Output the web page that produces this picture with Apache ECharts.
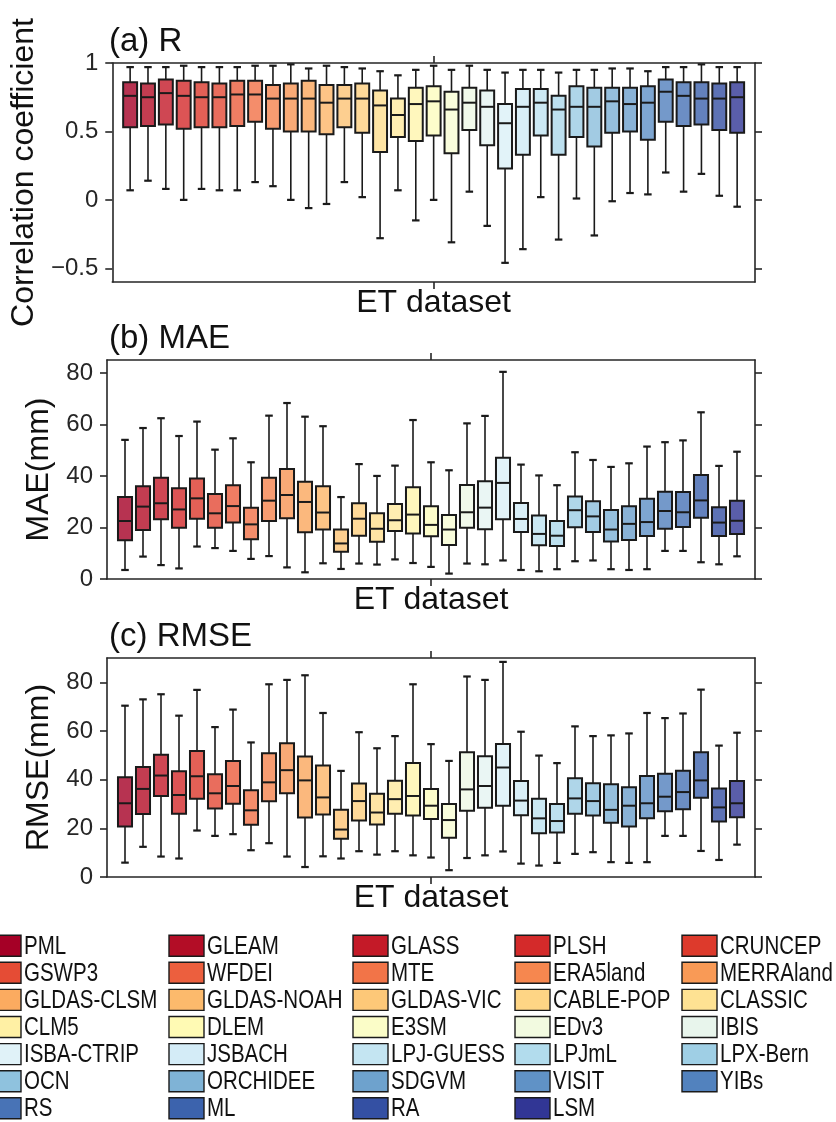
<!DOCTYPE html>
<html>
<head>
<meta charset="utf-8">
<script src="https://cdn.jsdelivr.net/npm/echarts@6/dist/echarts.min.js"></script>
<style>
  html, body { margin: 0; padding: 0; background: #fff; }
  #chart { width: 836px; height: 1122px; }
</style>
</head>
<body>
<div id="chart"></div>
<script>
// legend entries (ordered by row, 5 per row)
const legendNames = [
  "PML", "GLEAM", "GLASS", "PLSH", "CRUNCEP",
  "GSWP3", "WFDEI", "MTE", "ERA5land", "MERRAland",
  "GLDAS-CLSM", "GLDAS-NOAH", "GLDAS-VIC", "CABLE-POP", "CLASSIC",
  "CLM5", "DLEM", "E3SM", "EDv3", "IBIS",
  "ISBA-CTRIP", "JSBACH", "LPJ-GUESS", "LPJmL", "LPX-Bern",
  "OCN", "ORCHIDEE", "SDGVM", "VISIT", "YIBs",
  "RS", "ML", "RA", "LSM"
];

// box stats per dataset: [lower whisker, q1, median, q3, upper whisker]
const rStats = [
  [0.07, 0.53, 0.76, 0.86, 0.97], [0.14, 0.54, 0.75, 0.85, 0.97], [0.08, 0.55, 0.78, 0.88, 0.97],
  [0.00, 0.52, 0.76, 0.87, 0.98], [0.08, 0.53, 0.75, 0.86, 0.97], [0.07, 0.53, 0.75, 0.85, 0.97],
  [0.07, 0.54, 0.77, 0.87, 0.97], [0.13, 0.57, 0.77, 0.87, 0.98], [0.10, 0.52, 0.74, 0.84, 0.98],
  [0.00, 0.50, 0.74, 0.85, 0.99], [-0.06, 0.50, 0.74, 0.87, 0.96], [-0.03, 0.48, 0.71, 0.84, 0.98],
  [0.13, 0.53, 0.74, 0.84, 0.97], [0.02, 0.49, 0.74, 0.85, 0.96], [-0.28, 0.35, 0.69, 0.80, 0.94],
  [0.07, 0.46, 0.62, 0.74, 0.91], [-0.15, 0.43, 0.70, 0.82, 0.95], [0.00, 0.47, 0.72, 0.83, 0.98],
  [-0.31, 0.34, 0.66, 0.79, 0.95], [0.06, 0.51, 0.71, 0.82, 0.98], [-0.19, 0.40, 0.68, 0.80, 0.95],
  [-0.46, 0.23, 0.56, 0.70, 0.93], [-0.36, 0.33, 0.68, 0.81, 0.95], [0.02, 0.47, 0.71, 0.81, 0.95],
  [-0.29, 0.33, 0.66, 0.76, 0.93], [0.01, 0.46, 0.68, 0.83, 0.95], [-0.26, 0.39, 0.68, 0.82, 0.95],
  [-0.01, 0.49, 0.72, 0.82, 0.96], [0.05, 0.50, 0.70, 0.82, 0.96], [0.04, 0.44, 0.71, 0.83, 0.94],
  [0.20, 0.57, 0.79, 0.88, 0.97], [0.06, 0.54, 0.76, 0.86, 0.97], [0.19, 0.55, 0.74, 0.86, 0.99],
  [0.03, 0.51, 0.74, 0.85, 0.97], [-0.05, 0.49, 0.75, 0.86, 0.97]
];

const maeStats = [
  [3.5, 15.0, 22.5, 31.8, 54.0], [8.7, 19.0, 28.1, 36.0, 58.6], [5.4, 23.2, 29.4, 39.3, 62.4],
  [4.1, 19.9, 27.0, 35.2, 55.5], [12.6, 23.4, 31.3, 39.0, 61.1], [12.0, 19.9, 25.5, 33.0, 50.2],
  [10.9, 21.9, 28.3, 36.4, 54.6], [7.8, 15.4, 21.2, 27.7, 45.3], [8.9, 22.5, 30.4, 39.3, 63.4],
  [4.5, 23.6, 32.6, 42.7, 68.3], [2.6, 18.1, 29.9, 37.7, 63.0], [6.1, 19.2, 25.8, 36.0, 59.3],
  [3.9, 10.6, 13.8, 19.2, 31.8], [6.0, 16.8, 23.4, 29.4, 44.6], [5.6, 14.5, 19.5, 25.5, 40.0],
  [7.6, 18.6, 22.8, 29.1, 44.0], [6.2, 17.7, 25.0, 35.6, 61.7], [4.7, 16.6, 21.0, 28.2, 45.3],
  [2.1, 13.2, 19.2, 24.8, 42.2], [6.0, 19.9, 25.9, 36.5, 60.4], [5.7, 19.3, 27.7, 37.9, 63.3],
  [7.2, 23.2, 37.3, 47.1, 80.4], [3.5, 18.2, 23.3, 29.5, 44.4], [3.0, 13.1, 17.5, 24.6, 40.2],
  [3.8, 12.8, 16.8, 22.5, 36.4], [6.9, 20.1, 26.7, 32.0, 49.2], [7.2, 18.2, 24.3, 30.2, 46.2],
  [3.8, 14.6, 19.2, 26.8, 43.5], [3.5, 15.1, 21.4, 28.2, 44.9], [3.8, 16.7, 22.1, 31.1, 51.4],
  [10.9, 19.5, 26.4, 33.9, 53.1], [10.9, 20.2, 25.9, 33.8, 53.8], [6.5, 23.8, 30.5, 40.4, 64.7],
  [5.7, 16.7, 21.9, 27.8, 43.9], [8.8, 17.5, 22.6, 30.4, 49.4]
];

const rmseStats = [
  [5.9, 20.8, 30.3, 41.0, 70.4], [12.4, 25.9, 36.2, 45.2, 73.0], [8.4, 33.3, 41.7, 50.2, 75.1],
  [7.6, 26.0, 33.7, 43.5, 66.3], [19.1, 32.2, 41.4, 51.8, 76.9], [16.9, 28.2, 34.4, 42.2, 61.6],
  [17.6, 30.1, 37.4, 47.7, 68.8], [11.0, 21.5, 27.4, 35.6, 55.3], [13.9, 31.1, 38.9, 50.9, 79.2],
  [8.4, 34.4, 43.9, 55.0, 81.0], [4.1, 24.5, 39.7, 49.5, 82.9], [8.5, 25.7, 32.7, 45.8, 67.4],
  [7.6, 15.7, 19.5, 27.6, 43.6], [10.6, 23.2, 31.2, 38.4, 59.5], [9.2, 21.6, 26.5, 34.2, 52.9],
  [10.6, 26.0, 32.0, 39.6, 57.9], [8.9, 25.3, 33.3, 46.9, 79.2], [8.0, 23.8, 29.3, 36.2, 54.6],
  [2.8, 16.1, 23.4, 30.0, 47.7], [7.8, 27.2, 36.0, 51.3, 82.4], [8.9, 28.5, 37.4, 49.6, 81.0],
  [10.5, 29.3, 45.0, 54.7, 88.4], [5.5, 25.4, 31.4, 39.5, 59.7], [4.7, 18.0, 24.1, 32.2, 49.9],
  [5.8, 18.3, 23.0, 30.0, 46.8], [9.5, 26.0, 32.3, 40.6, 61.9], [10.2, 25.3, 31.2, 38.5, 57.9],
  [6.1, 22.3, 27.6, 38.1, 58.2], [5.8, 20.8, 29.3, 36.9, 59.0], [6.1, 24.1, 30.3, 41.5, 67.4],
  [16.9, 27.0, 33.0, 42.4, 65.3], [16.9, 27.8, 34.9, 43.7, 67.2], [10.7, 32.6, 39.7, 51.3, 77.0],
  [7.0, 22.8, 28.6, 36.4, 54.0], [13.3, 24.6, 30.3, 39.5, 59.3]
];

const rTicks = [-0.5, 0, 0.5, 1];
const errTicks = [0, 20, 40, 60, 80];

// colours (legend patches, RdYlBu-like)
const palette = [
  "#a50026", "#b30d26", "#c41a28", "#d42a2a", "#dd3a2c",
  "#e54c35", "#ec5f3e", "#f27448", "#f6874f", "#f99a56",
  "#fbab60", "#fcba6c", "#fdc878", "#fed585", "#fee293",
  "#fff0a4", "#fffab4", "#fbfdc8", "#f2fae0", "#e8f5ec",
  "#e0f2f8", "#d4ecf7", "#c4e5f2", "#b2dced", "#9fcfe5",
  "#8fc2de", "#7fb3d6", "#6ea2cd", "#6092c6", "#5282be",
  "#4873b6", "#3c63ad", "#3450a3", "#313695"
];

const ink = "#262626";
const nBox = rStats.length;

function rgb(h) {
  return [1, 3, 5].map(i => parseInt(h.substr(i, 2), 16));
}
// sample the palette for each box, drawn semi-transparent
const boxFill = rStats.map((_, i) => {
  const t = i * (palette.length - 1) / (nBox - 1);
  const a = Math.floor(t), b = Math.min(a + 1, palette.length - 1), f = t - a;
  const ca = rgb(palette[a]), cb = rgb(palette[b]);
  const c = ca.map((v, k) => Math.round(v + (cb[k] - v) * f));
  return "rgba(" + c.join(",") + ",0.8)";
});

function renderBox(params, api) {
  const x = api.value(0);
  const lo = api.coord([x, api.value(1)]);
  const q1 = api.coord([x, api.value(2)]);
  const md = api.coord([x, api.value(3)]);
  const q3 = api.coord([x, api.value(4)]);
  const hi = api.coord([x, api.value(5)]);
  const unit = api.size([1, 0])[0];
  const bw = unit * 0.78, cw = unit * 0.42;
  const cx = lo[0];
  const wl = { stroke: "#1a1a1a", lineWidth: 1.6 };
  const cap = { stroke: "#1a1a1a", lineWidth: 2.2 };
  return {
    type: "group",
    children: [
      { type: "line", shape: { x1: cx, y1: hi[1], x2: cx, y2: q3[1] }, style: wl },
      { type: "line", shape: { x1: cx, y1: q1[1], x2: cx, y2: lo[1] }, style: wl },
      { type: "line", shape: { x1: cx - cw / 2, y1: hi[1], x2: cx + cw / 2, y2: hi[1] }, style: cap },
      { type: "line", shape: { x1: cx - cw / 2, y1: lo[1], x2: cx + cw / 2, y2: lo[1] }, style: cap },
      { type: "rect", shape: { x: cx - bw / 2, y: q3[1], width: bw, height: q1[1] - q3[1] },
        style: { fill: boxFill[params.dataIndex], stroke: "#1a1a1a", lineWidth: 2 } },
      { type: "line", shape: { x1: cx - bw / 2, y1: md[1], x2: cx + bw / 2, y2: md[1] },
        style: { stroke: "#1a1a1a", lineWidth: 2 } }
    ]
  };
}

const gridTops = [63, 360, 658];
const yRanges = [[-0.6, 1], [0, 85], [0, 90]];
const yTicks = [rTicks, errTicks, errTicks];
const yNames = ["Correlation coefficient", "MAE(mm)", "RMSE(mm)"];
const yNameGaps = [59, 43, 43];
const titles = ["(a) R", "(b) MAE", "(c) RMSE"];
const statsList = [rStats, maeStats, rmseStats];

const axisLine = { show: true, onZero: false, lineStyle: { color: ink, width: 1.6 } };
const tickStyle = { color: ink, width: 1.6 };

const grid = [], xAxis = [], yAxis = [], series = [], title = [];
gridTops.forEach((top, g) => {
  grid.push({ left: 107, width: 648, top: top, height: 219 });
  title.push({ text: titles[g], left: 109, top: top - 38, padding: 0,
    textStyle: { fontSize: 33, fontWeight: "normal", color: "#111", fontFamily: "Liberation Sans" } });
  const xBase = {
    gridIndex: g, type: "value", min: 0, max: 36,
    splitLine: { show: false }, axisLine: axisLine,
    axisTick: { show: true, customValues: [18], length: 7, lineStyle: tickStyle },
    axisLabel: { show: false }
  };
  xAxis.push(Object.assign({}, xBase, {
    position: "bottom", name: "ET dataset", nameLocation: "middle", nameGap: 5,
    nameTextStyle: { fontSize: 32, color: "#111", fontFamily: "Liberation Sans", verticalAlign: "top" }
  }));
  xAxis.push(Object.assign({}, xBase, { position: "top" }));
  const yBase = {
    gridIndex: g, type: "value", min: yRanges[g][0], max: yRanges[g][1],
    splitLine: { show: false }, axisLine: axisLine,
    axisTick: { show: true, customValues: yTicks[g], length: 7, lineStyle: tickStyle }
  };
  yAxis.push(Object.assign({}, yBase, {
    position: "left", name: yNames[g], nameLocation: "middle", nameGap: yNameGaps[g],
    nameTextStyle: { fontSize: 32, color: "#111", fontFamily: "Liberation Sans" },
    axisLabel: {
      show: true, customValues: yTicks[g], margin: 14, fontSize: 24, color: ink,
      fontFamily: "Liberation Sans",
      formatter: v => String(v).replace("-", "\u2212")
    }
  }));
  yAxis.push(Object.assign({}, yBase, { position: "right", axisLabel: { show: false } }));
  series.push({
    type: "custom", xAxisIndex: g * 2, yAxisIndex: g * 2,
    renderItem: renderBox,
    encode: { x: 0, y: [1, 2, 3, 4, 5] },
    data: statsList[g].map((s, i) => [i + 1].concat(s)),
    clip: false, silent: true
  });
});

// legend: 5 columns, patch + narrow label
const legendColX = [-14, 169, 353, 515, 682];
const legendRowY = 945.7, legendRowStep = 27.1;
const graphic = [];
legendNames.forEach((name, k) => {
  const col = k % 5, row = Math.floor(k / 5);
  const cy = legendRowY + row * legendRowStep;
  graphic.push({
    type: "rect", shape: { x: legendColX[col], y: cy - 10.5, width: 35, height: 21 },
    style: { fill: palette[k], stroke: "#1a1a1a", lineWidth: 1.4 }, silent: true
  });
  graphic.push({
    type: "text", x: legendColX[col] + 38, y: cy + 1, scaleX: 0.82,
    style: { text: name, x: 0, y: 0, fill: "#111", font: "25px 'Liberation Sans'", verticalAlign: "middle" },
    silent: true
  });
});

const chart = echarts.init(document.getElementById("chart"), null, { renderer: "canvas" });
chart.setOption({
  animation: false,
  backgroundColor: "#fff",
  title: title,
  grid: grid,
  xAxis: xAxis,
  yAxis: yAxis,
  series: series,
  graphic: graphic
});
</script>
</body>
</html>
